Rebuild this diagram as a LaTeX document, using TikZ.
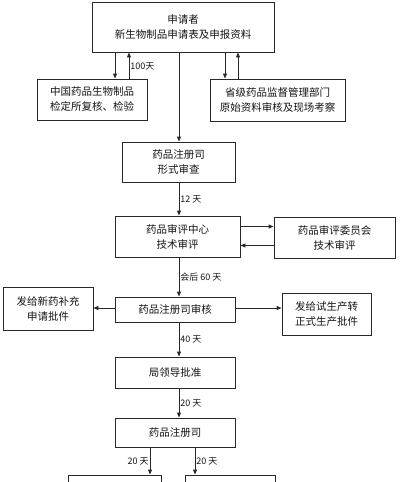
\documentclass[tikz,border=0pt]{standalone}
\usepackage{fontspec}
\setmainfont{Noto Sans CJK SC}
\usetikzlibrary{arrows.meta,positioning,calc}
\definecolor{linegray}{RGB}{40,40,40}
\definecolor{textgray}{RGB}{20,20,20}

\begin{document}
\begin{tikzpicture}[x=1pt,y=-1pt,
  box/.style={draw=linegray, line width=0.9pt, text=textgray, align=center,
    inner sep=0pt, font=\fontsize{10.5}{15}\selectfont},
  arr/.style={draw=linegray, line width=0.9pt, -{Triangle[length=5pt,width=4pt]}},
  lbl/.style={text=textgray, inner sep=1pt, font=\fontsize{9}{10}\selectfont}]
\useasboundingbox (0,0) rectangle (400,482);
\clip (0,0) rectangle (400,482);
% Application and first checks
\node[box, minimum width=182, minimum height=50] (apply) at (183,27)
  {申请者\\新生物制品申请表及申报资料};
\node[box, minimum width=110, minimum height=41] (inspect) at (92,99.5)
  {中国药品生物制品\\检定所复核、检验};
\node[box, minimum width=135, minimum height=42] (province) at (277.5,100)
  {省级药品监督管理部门\\原始资料审核及现场考察};
% Main chain
\coordinate (spine) at (179,0);
\node[box, minimum width=113, minimum height=40] (formal) at (178.5,162)
  {药品注册司\\形式审查};
\node[box, minimum width=125, minimum height=41] (center) at (177.5,236.5)
  {药品审评中心\\技术审评};
\node[box, minimum width=121, minimum height=41] (committee) at (334.5,237.5)
  {药品审评委员会\\技术审评};
\node[box, minimum width=120, minimum height=25] (review) at (175,309.5)
  {药品注册司审核};
\node[box, minimum width=90, minimum height=43] (supp) at (48,308.5)
  {发给新药补充\\申请批件};
\node[box, minimum width=89, minimum height=42] (prod) at (326.5,314)
  {发给试生产转\\正式生产批件};
\node[box, minimum width=120, minimum height=31] (leader) at (175,372.5)
  {局领导批准};
\node[box, minimum width=120, minimum height=29] (final) at (175,432.5)
  {药品注册司};
\node[box, minimum width=93, minimum height=40] (outL) at (114.5,495) {};
\node[box, minimum width=90, minimum height=40] (outR) at (230,495) {};

% Side loops under the applicant
\coordinate (a1) at ([xshift=23pt]inspect.north);
\coordinate (a2) at ([xshift=37pt]inspect.north);
\coordinate (b1) at ([xshift=-52.5pt]province.north);
\coordinate (b2) at ([xshift=-39.5pt]province.north);
\draw[arr] (apply.south -| a1) -- (a1);
\draw[arr] (a2) -- (apply.south -| a2) node[lbl, pos=0.45, right] {100天};
\draw[arr] (apply.south -| b1) -- (b1);
\draw[arr] (b2) -- (apply.south -| b2);

% Vertical flow
\draw[arr] (apply.south -| spine) -- (formal.north -| spine);
\draw[arr] (formal.south -| spine) -- (center.north -| spine)
  node[lbl, midway, right] {12 天};
\draw[arr] (center.south -| spine) -- (review.north -| spine)
  node[lbl, pos=0.5, right] {会后 60 天};
\draw[arr] (review.south -| spine) -- (leader.north -| spine)
  node[lbl, midway, right] {40 天};
\draw[arr] (leader.south -| spine) -- (final.north -| spine)
  node[lbl, midway, right] {20 天};

% Exchange with the committee
\draw[arr] ([yshift=-8pt]committee.west) -- ([yshift=-8pt]committee.west -| center.east);
\draw[arr] ([yshift=10pt]center.east) -- ([yshift=10pt]center.east -| committee.west);

% Decisions
\draw[arr] ([yshift=1.5pt]review.west) -- ([yshift=1.5pt]review.west -| supp.east);
\draw[arr] ([yshift=1.5pt]review.east) -- ([yshift=1.5pt]review.east -| prod.west);

% Final split
\coordinate (c1) at (150,0);
\coordinate (c2) at (195,0);
\draw[arr] (final.south -| c1) -- (outL.north -| c1) node[lbl, midway, left] {20 天};
\draw[arr] (final.south -| c2) -- (outR.north -| c2) node[lbl, midway, right] {20 天};
\end{tikzpicture}
\end{document}
